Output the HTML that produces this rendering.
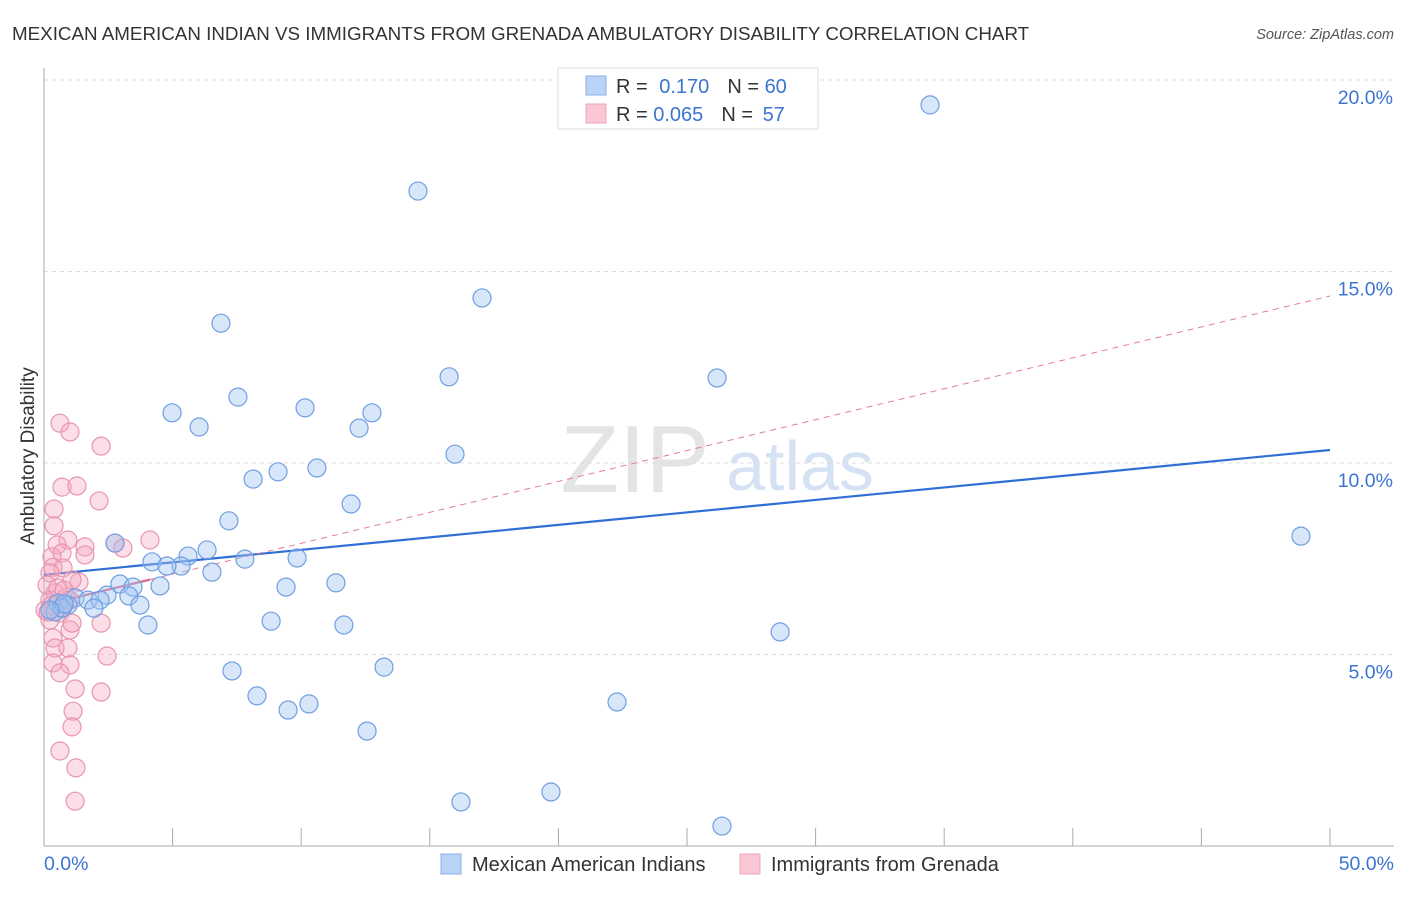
<!DOCTYPE html>
<html><head><meta charset="utf-8"><style>
body{margin:0;background:#fff;font-family:"Liberation Sans",sans-serif}
svg text{font-family:"Liberation Sans",sans-serif}
</style></head><body>
<svg id="chart" width="1406" height="892">
<text x="12" y="40" font-size="18.8" fill="#333">MEXICAN AMERICAN INDIAN VS IMMIGRANTS FROM GRENADA AMBULATORY DISABILITY CORRELATION CHART</text>
<text x="1394" y="39" font-size="14.5" fill="#555" font-style="italic" text-anchor="end">Source: ZipAtlas.com</text>
<text x="34" y="456" font-size="19" fill="#333" text-anchor="middle" transform="rotate(-90 34 456)">Ambulatory Disability</text>
<g><text x="635" y="492" font-size="96" fill="#e4e4e4" font-family="Liberation Serif" text-anchor="middle">ZIP</text><text x="800" y="490" font-size="70" fill="#d4e2f4" text-anchor="middle">atlas</text></g>
<g id="grid"></g><g id="axes"></g><g id="trend"></g><g id="pts"></g>
<g>
<rect x="558" y="68" width="260" height="61" fill="#fff" stroke="#ddd"/>
<rect x="586" y="76" width="20" height="19" fill="#b8d3f5" stroke="#8ab2e8"/>
<rect x="586" y="104" width="20" height="19" fill="#f9c6d4" stroke="#eda5bb"/>
<text x="616" y="93" font-size="20" fill="#333">R = <tspan fill="#3b74d1" dx="6">0.170</tspan><tspan dx="18" fill="#333">N = </tspan><tspan fill="#3b74d1">60</tspan></text>
<text x="616" y="121" font-size="20" fill="#333">R = <tspan fill="#3b74d1">0.065</tspan><tspan dx="18" fill="#333">N = </tspan><tspan fill="#3b74d1" dx="4">57</tspan></text>
</g>
<g>
<rect x="441" y="854" width="20" height="20" fill="#b8d3f5" stroke="#8ab2e8"/>
<text x="472" y="871" font-size="20" fill="#333">Mexican American Indians</text>
<rect x="740" y="854" width="20" height="20" fill="#f9c6d4" stroke="#eda5bb"/>
<text x="771" y="871" font-size="20" fill="#333">Immigrants from Grenada</text>
</g>
</svg>
<script>
const xTicks=[0,50];
const yTicks=[5,10,15,20];
const blueX=[34.45,14.54,17.03,6.88,15.75,26.17,7.54,10.15,4.98,12.75,6.03,12.25,15.98,10.61,9.10,8.13,11.94,48.87,7.19,2.76,6.34,4.20,5.60,5.33,7.81,9.84,4.78,6.53,2.95,3.46,4.51,11.35,9.41,2.45,3.30,1.21,1.71,2.18,0.54,0.93,3.73,1.94,0.43,8.83,4.04,11.66,28.62,7.31,13.22,8.28,10.30,9.49,22.28,12.56,19.71,16.21,26.36,0.70,0.78,0.23];
const blueY=[19.35,17.10,14.31,13.65,12.25,12.22,11.72,11.44,11.31,11.31,10.94,10.91,10.23,9.87,9.77,9.58,8.93,8.09,8.49,7.91,7.73,7.42,7.57,7.31,7.49,7.52,7.31,7.15,6.84,6.76,6.79,6.87,6.76,6.55,6.53,6.48,6.42,6.42,6.34,6.29,6.29,6.21,6.11,5.87,5.77,5.77,5.59,4.57,4.67,3.92,3.71,3.55,3.76,3.00,1.41,1.15,0.52,6.21,6.32,6.16];
const pinkX=[0.62,1.01,2.22,0.70,1.28,2.14,0.39,0.39,0.93,2.76,3.07,4.12,1.59,1.59,0.51,0.70,0.31,0.35,0.74,1.36,1.09,0.23,0.43,0.23,0.54,0.74,1.01,0.62,0.23,1.01,1.09,2.22,0.35,0.93,0.43,2.45,0.35,1.01,0.62,1.21,2.22,1.13,1.09,0.62,1.24,1.21,0.04,0.31,0.86,0.12,0.54,0.78,0.16];
const pinkY=[11.04,10.81,10.44,9.37,9.40,9.01,8.80,8.36,7.99,7.91,7.78,7.99,7.81,7.60,7.86,7.65,7.55,7.28,7.26,6.89,6.95,7.13,6.61,6.42,6.34,6.24,6.42,6.08,5.90,5.64,5.82,5.82,5.43,5.17,5.17,4.96,4.78,4.73,4.52,4.10,4.02,3.52,3.11,2.48,2.04,1.17,6.16,6.29,6.50,6.81,6.74,6.68,6.11];
const blueTrend=[7.08,10.34];
const pinkTrend=[6.29,14.36];
const NS='http://www.w3.org/2000/svg';
const X0=44,X1=1330,Y0=846,PPY=38.3;
const sx=v=>X0+(X1-X0)*v/50, sy=v=>Y0-v*PPY;
function mk(t,a,p){const e=document.createElementNS(NS,t);for(const k in a)e.setAttribute(k,a[k]);p.appendChild(e);return e;}
const grid=document.getElementById('grid'),axes=document.getElementById('axes'),trend=document.getElementById('trend'),pts=document.getElementById('pts');
yTicks.forEach(v=>{
 const l=mk('line',{x1:X0,x2:1394,y1:sy(v),y2:sy(v),stroke:'#ddd','stroke-dasharray':'4 4'},grid);
 
 
 const t=mk('text',{x:1393,y:sy(v)+24,'font-size':19.5,fill:'#3b74d1','text-anchor':'end'},axes);
 t.textContent=v.toFixed(1)+'%';
 
 
});
const ya=mk('line',{x1:X0,x2:X0,y1:68,y2:Y0,stroke:'#aaa'},axes);


const xa=mk('line',{x1:X0,x2:1394,y1:Y0,y2:Y0,stroke:'#aaa'},axes);


for(let i=0;i<=10;i++){const tk=mk('line',{x1:sx(i*5),x2:sx(i*5),y1:Y0,y2:Y0-(i==0?0:18),stroke:'#aaa'},axes);
 
 }
xTicks.forEach((v,i)=>{const t=mk('text',{x:i==0?44:1394,y:870,'font-size':19.5,fill:'#3b74d1','text-anchor':i==0?'start':'end'},axes);
 t.textContent=v.toFixed(1)+'%';
 
 });
const bi=blueTrend[0],bs=(blueTrend[1]-blueTrend[0])/50;
const bl=mk('line',{x1:sx(0),y1:sy(bi),x2:sx(50),y2:sy(bi+bs*50),stroke:'#2f6fd6','stroke-width':2.2},trend);


const pi=pinkTrend[0],ps=(pinkTrend[1]-pinkTrend[0])/50;const pmax=Math.max(...pinkX);
const pd=mk('line',{x1:sx(pmax),y1:sy(pi+ps*pmax),x2:sx(50),y2:sy(pi+ps*50),stroke:'#e67a9c','stroke-width':1,'stroke-dasharray':'6 5'},trend);


const pl=mk('line',{x1:sx(0),y1:sy(pi),x2:sx(pmax),y2:sy(pi+ps*pmax),stroke:'#e0668e','stroke-width':2.2},trend);


pinkX.forEach((v,i)=>{const c=mk('circle',{cx:sx(v),cy:sy(pinkY[i]),r:9,fill:'rgba(245,168,192,0.38)',stroke:'#e995b0','stroke-width':1.2},pts);
 
 });
blueX.forEach((v,i)=>{const c=mk('circle',{cx:sx(v),cy:sy(blueY[i]),r:9,fill:'rgba(160,196,240,0.42)',stroke:'#6f9fe2','stroke-width':1.2},pts);
 
 });
</script>
</body></html>
